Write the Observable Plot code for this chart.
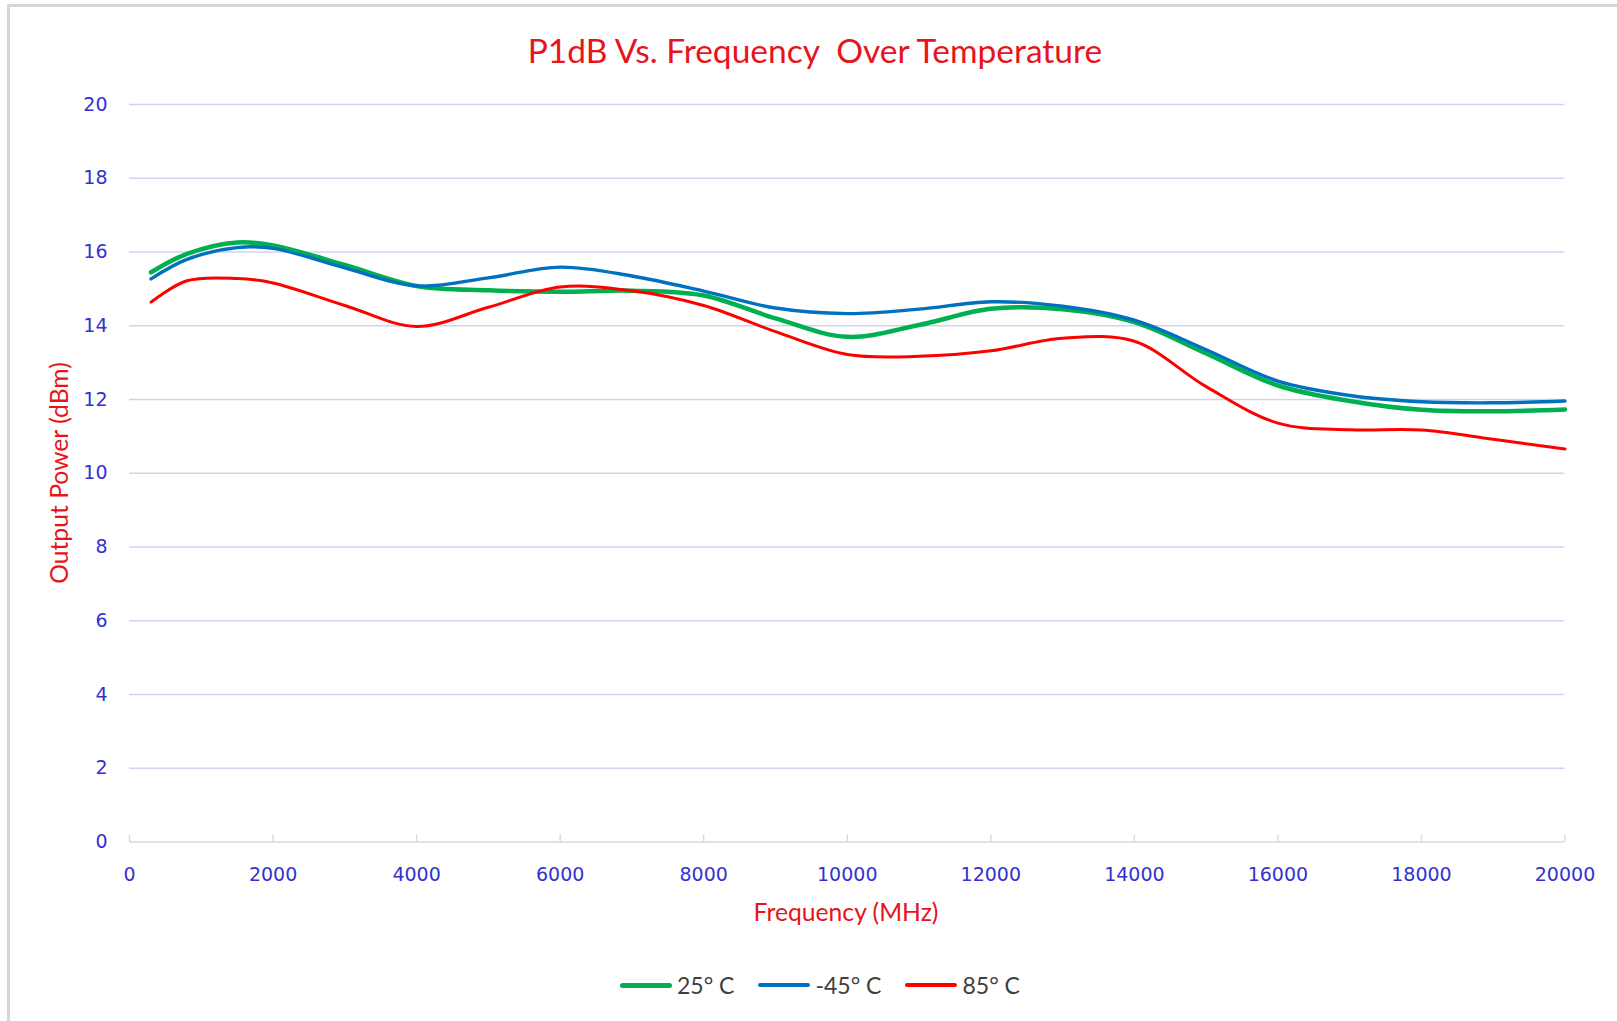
<!DOCTYPE html>
<html>
<head>
<meta charset="utf-8">
<script src="https://cdn.jsdelivr.net/npm/d3@7"></script>
<script src="https://cdn.jsdelivr.net/npm/@observablehq/plot@0.6"></script>
<style>
  html, body { margin:0; padding:0; background:#fff; width:1617px; height:1021px; overflow:hidden; position:relative; }
  #frame { position:absolute; left:7px; top:4px; width:1700px; height:1100px; border-left:3px solid #d6d6d6; border-top:3px solid #d6d6d6; box-sizing:border-box; }
  #title { position:absolute; left:315px; width:1000px; top:26px; line-height:48px; text-align:center;
           font-family:Lato, sans-serif; font-size:33.5px; color:#e8141b; white-space:pre; }
  #chart { position:absolute; left:0; top:80px; }
  #xlabel { position:absolute; left:546px; width:600px; top:897px; line-height:30px; text-align:center;
            font-family:Lato, sans-serif; font-size:24.7px; color:#e8141b; white-space:pre; }
  #ylabel { position:absolute; left:59px; top:473px; width:0; height:0; }
  #ylabel span { position:absolute; left:0; top:0; transform:translate(-50%,-50%) rotate(-90deg);
                 font-family:Lato, sans-serif; font-size:24.7px; color:#e8141b; white-space:pre; line-height:30px; }
  #legend { position:absolute; left:620px; top:970px; height:30px; display:flex; align-items:center; gap:24px;
            font-family:Lato, sans-serif; font-size:23px; color:#404040; }
  .item { display:flex; align-items:center; gap:5px; }
  .sw { display:inline-block; width:52px; border-radius:3px; }
</style>
</head>
<body>
<div id="frame"></div>
<div id="title"></div>
<div id="chart"></div>
<div id="xlabel"></div>
<div id="ylabel"><span></span></div>
<div id="legend"></div>
<script>
// ---- data ----
const freq = [300, 800, 1500, 2000, 3000, 4000, 5000, 6000, 7000, 8000, 9000, 10000,
              11000, 12000, 13000, 14000, 15000, 16000, 17000, 18000, 19000, 20000];
const temp25 = [15.45, 15.95, 16.26, 16.18, 15.65, 15.08, 14.96, 14.92, 14.95, 14.82, 14.2, 13.70,
                14.02, 14.46, 14.45, 14.1, 13.25, 12.38, 11.96, 11.72, 11.68, 11.73];
const tempM45 = [15.27, 15.8, 16.12, 16.1, 15.57, 15.08, 15.3, 15.59, 15.35, 14.94, 14.48, 14.33,
                 14.45, 14.65, 14.53, 14.15, 13.35, 12.5, 12.11, 11.94, 11.91, 11.96];
const temp85 = [14.64, 15.22, 15.28, 15.16, 14.55, 13.98, 14.5, 15.05, 14.95, 14.55, 13.84, 13.22,
                13.17, 13.32, 13.66, 13.58, 12.35, 11.36, 11.18, 11.17, 10.92, 10.66];
const seriesNames = ["25° C", "-45° C", "85° C"];
const seriesValues = [temp25, tempM45, temp85];
const seriesColors = ["#00b050", "#0070c0", "#ff0000"];
const seriesWidths = [4.5, 3.4, 3];
const yTicks = [0, 2, 4, 6, 8, 10, 12, 14, 16, 18, 20];
const xTicks = [0, 2000, 4000, 6000, 8000, 10000, 12000, 14000, 16000, 18000, 20000];
const titleText = "P1dB Vs. Frequency  Over Temperature";
const xLabelText = "Frequency (MHz)";
const yLabelText = "Output Power (dBm)";

// ---- chart ----
const tickBlue = "#3232d2";
const lineMarks = seriesNames.map((name, i) =>
  Plot.line(freq.map((f, j) => ({f, v: seriesValues[i][j]})), {
    x: "f", y: "v", stroke: seriesColors[i], strokeWidth: seriesWidths[i],
    curve: "catmull-rom", strokeLinecap: "round", strokeLinejoin: "round"
  })
);

const chart = Plot.plot({
  width: 1617,
  height: 860,
  marginTop: 24,
  marginBottom: 98.5,
  marginLeft: 129,
  marginRight: 52.5,
  x: {domain: [0, 20000]},
  y: {domain: [0, 20]},
  style: {fontFamily: "'DejaVu Sans', sans-serif", fontSize: "19px", color: tickBlue, background: "transparent", overflow: "visible"},
  marks: [
    Plot.ruleY(yTicks.filter(d => d !== 0), {stroke: "#d2d2f0", strokeWidth: 1.4}),
    Plot.ruleY([0], {stroke: "#d9d9d9", strokeWidth: 1.6}),
    Plot.axisY({ticks: yTicks, tickSize: 0, tickPadding: 22, label: null, fill: tickBlue, tickFormat: d => String(d)}),
    Plot.axisX({ticks: xTicks, tickSize: -7, tickPadding: 32, stroke: "#d9d9d9", strokeWidth: 1.4, label: null, fill: tickBlue, tickFormat: d => String(d)}),
    ...lineMarks
  ]
});
document.getElementById("chart").appendChild(chart);

document.getElementById("title").textContent = titleText;
document.getElementById("xlabel").textContent = xLabelText;
document.querySelector("#ylabel span").textContent = yLabelText;

const legend = document.getElementById("legend");
seriesNames.forEach((name, i) => {
  const item = document.createElement("div");
  item.className = "item";
  const sw = document.createElement("span");
  sw.className = "sw";
  sw.style.background = seriesColors[i];
  sw.style.height = (i === 0 ? 5 : 4) + "px";
  const label = document.createElement("span");
  label.textContent = name;
  item.appendChild(sw);
  item.appendChild(label);
  legend.appendChild(item);
});
</script>
</body>
</html>
